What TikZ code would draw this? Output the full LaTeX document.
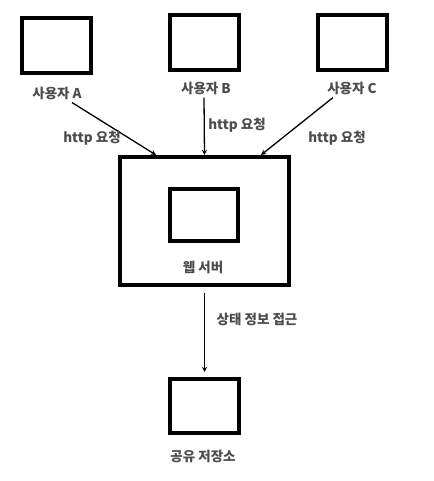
\documentclass[tikz,border=0pt]{standalone}
\usepackage{fontspec}
\setmainfont{Noto Sans CJK KR}
\usepackage{xcolor}
\usepackage{tikz}
\usetikzlibrary{arrows, positioning}
\tikzstyle{userbox} = [rectangle, minimum width=69pt, minimum height=55pt, draw=black, line width=4pt]
\tikzstyle{serverbox} = [rectangle, minimum width=169pt, minimum height=128pt, draw=black, line width=4pt]
\tikzstyle{label} = [text=black!70, font=\fontsize{13.5}{15}\selectfont\bfseries, inner sep=1pt]
\tikzstyle{arrow} = [line width=1.3pt,->,>=stealth]

\begin{document}
\begin{tikzpicture}[x=1pt, y=-1pt]
		\useasboundingbox (0,0) rectangle (433,481);
		
		% Nodes for users
		\node (userA) [userbox] at (56.5,45.5) {};
		\node (userB) [userbox] at (204.5,43) {};
		\node (userC) [userbox] at (352,43) {};
		\node (labA) [label] at (57,93) {사용자 A};
		\node (labB) [label] at (206,88) {사용자 B};
		\node (labC) [label] at (352,88) {사용자 C};
		
		% Nodes for web server
		\node (server) [serverbox] at (204.5,221) {};
		\node (inner) [userbox, minimum width=68pt, minimum height=52pt] at (204,215) {};
		\node (labServer) [label] at (203,267) {웹 서버};
		
		% Nodes for shared storage
		\node (store) [userbox, minimum height=54pt] at (204.5,406) {};
		\node (labStore) [label] at (203,456) {공유 저장소};
		
		% Arrows for requests
		\draw [arrow] ([xshift=15pt,yshift=-2pt]labA.south) -- ([xshift=-48.5pt]server.north);
		\draw [arrow] ([xshift=-2pt,yshift=-2pt]labB.south) -- (server.north);
		\draw [arrow] ([xshift=-19pt,yshift=-2pt]labC.south) -- ([xshift=56.5pt]server.north);
		
		% Arrow for state access
		\draw [arrow] ([yshift=-6pt]server.south) -- ([yshift=5pt]store.north);
		
		% Labels
		\node (reqA) [label] at (92,138) {http 요청};
		\node (reqB) [label] at (237,125) {http 요청};
		\node (reqC) [label] at (337,138) {http 요청};
		\node (access) [label] at (257,319) {상태 정보 접근};
		
	\end{tikzpicture}
\end{document}
